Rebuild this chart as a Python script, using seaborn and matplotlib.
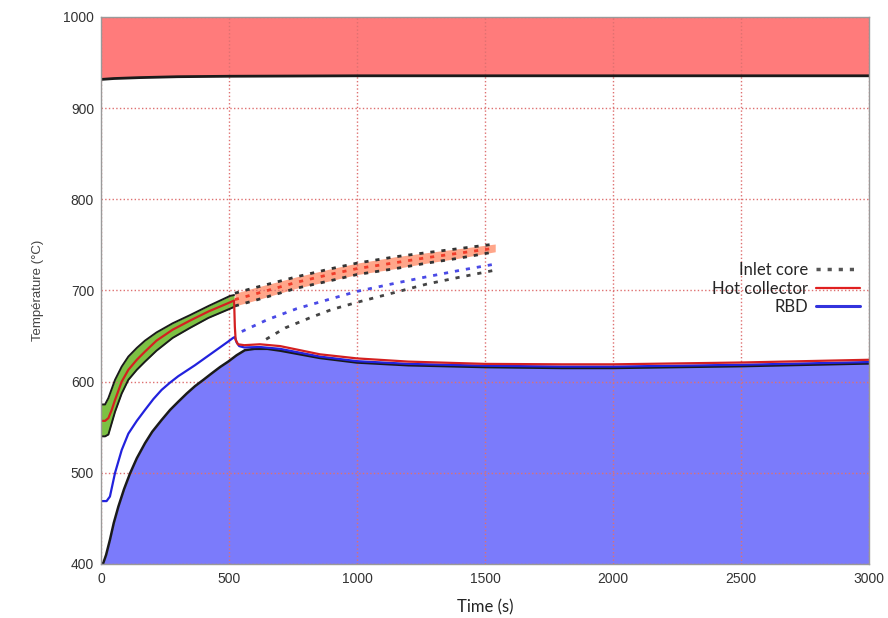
import numpy as np
import pandas as pd
import seaborn as sns
import matplotlib.pyplot as plt

# top limit band
t_top = [0, 50, 150, 300, 500, 1000, 3000]
T_top = [931.5, 932.5, 933.5, 934.5, 935, 935.5, 935.5]

# lower envelope (blue filled region)
t_env = [0, 9, 20, 35, 50, 68, 90, 113, 140, 172, 200, 237, 270, 302, 335, 367, 400,
         432, 465, 497, 530, 562, 600, 650, 700, 855, 1000, 1200, 1500, 1800, 2000, 2500, 3000]
T_env = [400, 401, 410, 426.5, 445, 463, 482, 499, 516, 532.5, 545, 558, 569, 578, 587, 595, 602,
         609, 616, 622, 629, 634.5, 636, 636, 634, 626, 621, 618, 616, 615, 615, 617, 620]

# green band around hot collector (first phase)
t_green = [0, 16, 29, 42, 55, 81, 107, 140, 172, 217, 280, 348, 420, 504, 520]
green_hi = [575, 575, 582, 592, 602, 616.5, 627.5, 637, 645, 654, 664, 673, 683, 694, 695]
green_lo = [540, 540, 542, 554.5, 567, 587, 602, 613, 622, 634, 648, 659, 670, 680, 682]

# hot collector
t_hc = [0, 16, 29, 42, 55, 81, 107, 140, 172, 217, 280, 348, 420, 504, 520,
        523, 526, 535, 560, 621, 700, 855, 1000, 1200, 1500, 1800, 2000, 2500, 3000]
T_hc = [557, 557, 560, 569, 580, 600, 613, 624, 633, 645, 657, 667, 677, 687, 689,
        660, 646, 641, 640, 641, 639, 630, 625.5, 622, 619.5, 619, 619, 621, 624]

# RBD
t_rbd = [0, 22, 35, 55, 81, 107, 140, 172, 205, 237, 270, 302, 367, 432, 497, 516, 523, 530, 540,
         560, 621, 700, 855, 1000, 1200, 1500, 1800, 2000, 2500, 3000]
T_rbd = [469, 469, 474, 500, 525, 543, 557, 569, 581, 591, 599, 606, 618, 631, 644, 648, 649, 643, 639,
         637.5, 638, 636, 627.5, 622.5, 619.5, 617.5, 616.5, 616.5, 618.5, 621.5]

# extrapolated (dashed) part
t_band = [523, 600, 764, 900, 1000, 1150, 1272, 1400, 1540]
band_mid = [690, 696, 709, 718, 724, 730.5, 736, 741, 746.5]
band_hi = [697, 703, 715, 724, 730, 737, 741.5, 746, 751]
band_lo = [683, 689, 702.5, 711, 717.5, 724, 730, 735.5, 742.5]

t_rbd_ext = [550, 650, 764, 900, 1000, 1150, 1272, 1400, 1540]
T_rbd_ext = [655, 668, 680, 691, 699, 708, 715, 722, 729]

t_inlet = [645, 720, 816, 900, 1000, 1150, 1272, 1400, 1534]
T_inlet = [646.5, 659, 670, 679, 687, 698, 707, 714.5, 722]

sns.set_theme(style="white")
plt.rcParams['font.family'] = ['Liberation Sans', 'DejaVu Sans']

fig = plt.figure(figsize=(8.88, 6.18), dpi=100)
ax = fig.add_axes([0.1137, 0.0874, 0.8649, 0.8851])

dots = (0, (1.5, 2.5))

# filled regions
ax.fill_between(t_top, T_top, 1000, color='#ff7b7b', lw=0, zorder=1)
sns.lineplot(x=t_top, y=T_top, ax=ax, color='#1a1a1a', lw=2, estimator=None, sort=False, zorder=3)

ax.fill_between(t_env, 400, T_env, color='#7b7bfb', lw=0, zorder=1)
sns.lineplot(x=t_env, y=T_env, ax=ax, color='#1a1a1a', lw=1.8, estimator=None, sort=False, zorder=3)

ax.fill_between(t_green, green_lo, green_hi, color='#7cc143', lw=0, zorder=1)
sns.lineplot(x=t_green, y=green_hi, ax=ax, color='#1a1a1a', lw=1.4, estimator=None, sort=False, zorder=3)
sns.lineplot(x=t_green, y=green_lo, ax=ax, color='#1a1a1a', lw=1.4, estimator=None, sort=False, zorder=3)

ax.fill_between(t_band, band_lo, band_hi, color='#ffa68a', lw=0, zorder=1)
for yy, c in [(band_hi, '#333333'), (band_lo, '#333333'), (band_mid, '#f03c2a')]:
    sns.lineplot(x=t_band, y=yy, ax=ax, color=c, lw=2, ls=dots, estimator=None,
                 sort=False, zorder=3)

sns.lineplot(x=t_rbd_ext, y=T_rbd_ext, ax=ax, color='#4a4ae6', lw=2, ls=dots,
             estimator=None, sort=False, zorder=3)
sns.lineplot(x=t_inlet, y=T_inlet, ax=ax, color='#444444', lw=2, ls=dots,
             estimator=None, sort=False, zorder=3)

# main curves
sns.lineplot(x=t_rbd, y=T_rbd, ax=ax, color='#2222dd', lw=1.6, estimator=None, sort=False, zorder=4)
sns.lineplot(x=t_hc, y=T_hc, ax=ax, color='#d42020', lw=1.6, estimator=None, sort=False, zorder=5)

ax.set_xlim(0, 3000)
ax.set_ylim(400, 1000)
ax.set_xticks(np.arange(0, 3001, 500))
ax.set_yticks(np.arange(400, 1001, 100))
for s in ax.spines.values():
    s.set_color('#9a9a9a')
    s.set_linewidth(1)
    s.set_zorder(6)
ax.tick_params(axis='both', direction='in', length=4, color='#777777', labelsize=10,
               labelcolor='#333333')
ax.tick_params(axis='x', pad=6)
ax.tick_params(axis='y', pad=5)
ax.set_axisbelow(False)
ax.grid(True, which='major', axis='both', color='#de7070', ls=':', lw=1.0, zorder=2)

ax.set_xlabel('Time (s)', fontsize=12, family=['Lato', 'DejaVu Sans'], color='#222222', labelpad=9)
ax.set_ylabel('Température (°C)', fontsize=9.5, color='#444444', labelpad=14)

# legend
handles = [
    plt.Line2D([], [], color='#555555', lw=2.5, ls=(0, (1.2, 2))),
    plt.Line2D([], [], color='#e02020', lw=1.6),
    plt.Line2D([], [], color='#3333dd', lw=2.2),
]
labels = ['Inlet core', 'Hot collector', 'RBD']
ax.legend(handles, labels, loc='upper right', bbox_to_anchor=(0.988, 0.552),
          frameon=False, markerfirst=False, borderpad=0, borderaxespad=0,
          handlelength=2.6, handletextpad=0.5, labelspacing=0.15,
          prop={'family': ['Lato', 'DejaVu Sans'], 'size': 12})

fig.savefig('out.png', dpi=100)
